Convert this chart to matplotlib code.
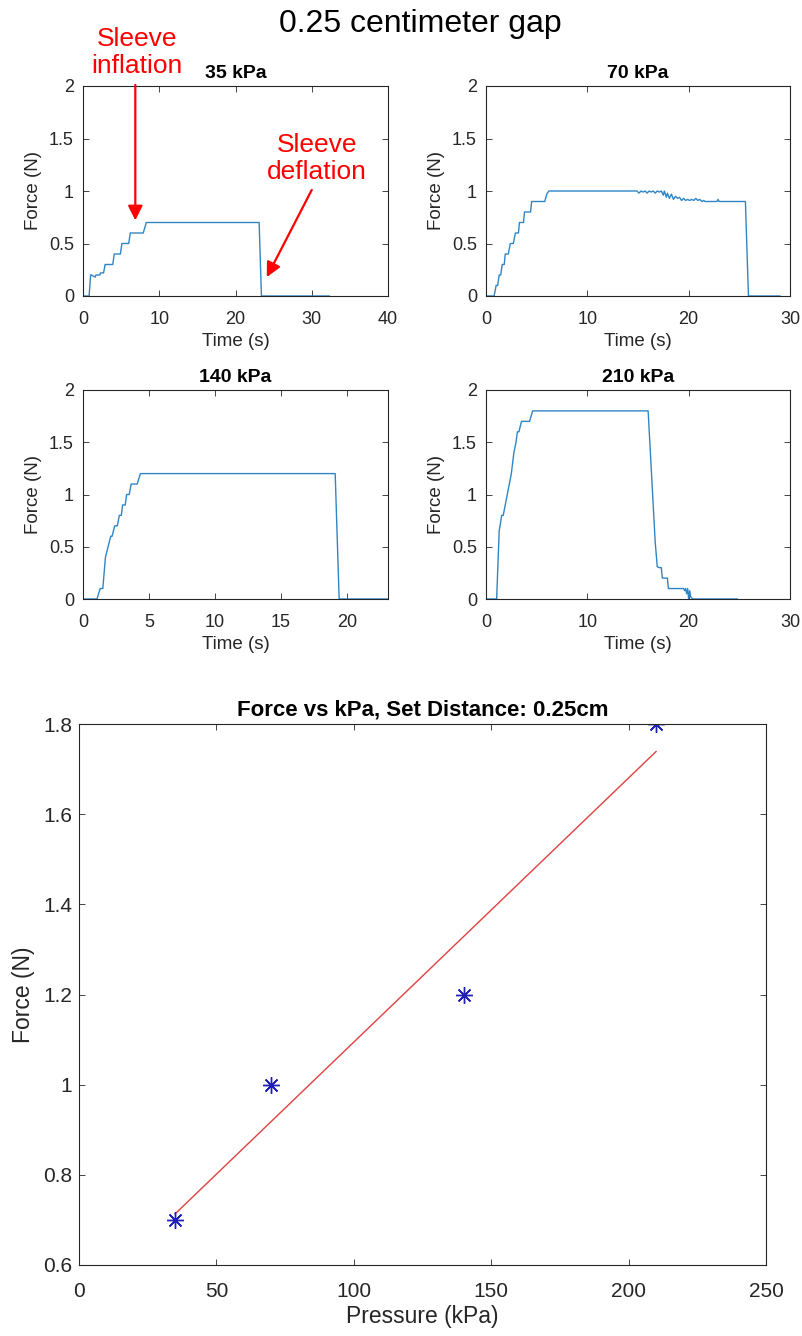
import numpy as np
import matplotlib
matplotlib.use("Agg")
import matplotlib.pyplot as plt
from matplotlib.ticker import FormatStrFormatter

plt.rcParams['font.family'] = ['Liberation Sans', 'DejaVu Sans']

# ---------------- data ----------------
t35 = [0, 0.8, 1.0, 1.1, 1.6, 1.7, 2.2, 2.3, 2.7, 2.9, 3.0, 3.9, 4.1, 4.9, 5.1, 6.0, 6.2, 7.9, 8.3, 23.1, 23.4, 32.3]
f35 = [0, 0, 0.2, 0.2, 0.18, 0.2, 0.2, 0.22, 0.22, 0.3, 0.3, 0.3, 0.4, 0.4, 0.5, 0.5, 0.6, 0.6, 0.7, 0.7, 0, 0]

t70 = [0, 0.8, 1.0, 1.15, 1.3, 1.45, 1.6, 1.8, 1.9, 2.2, 2.4, 2.7, 2.9, 3.2, 3.3, 3.7, 3.8, 4.4, 4.5, 5.8, 6.0, 6.2,
       14.9, 15.1, 15.3, 15.5, 15.7, 15.9, 16.1, 16.3, 16.5, 16.7, 16.9, 17.1, 17.3, 17.5, 17.6, 17.8, 17.9, 18.1,
       18.3, 18.5, 18.7, 18.9, 19.1, 19.3, 19.5, 19.7, 19.9, 20.1, 20.3, 20.5, 20.7, 20.9, 21.1, 21.3, 21.5, 21.6,
       22.8, 22.9, 23.0, 25.6, 25.9, 29.0]
f70 = [0, 0, 0.1, 0.1, 0.2, 0.2, 0.3, 0.3, 0.4, 0.4, 0.5, 0.5, 0.6, 0.6, 0.7, 0.7, 0.8, 0.8, 0.9, 0.9, 0.97, 1.0,
       1.0, 0.98, 1.0, 0.99, 1.0, 0.98, 1.0, 0.99, 1.0, 0.98, 1.0, 0.99, 1.0, 0.96, 1.0, 0.94, 0.98, 0.93,
       0.97, 0.92, 0.95, 0.93, 0.94, 0.91, 0.93, 0.91, 0.92, 0.91, 0.92, 0.91, 0.93, 0.91, 0.92, 0.9, 0.91, 0.9,
       0.9, 0.92, 0.9, 0.9, 0, 0]

t140 = [0, 1.06, 1.3, 1.5, 1.7, 1.9, 2.1, 2.2, 2.4, 2.6, 2.75, 2.9, 3.0, 3.2, 3.3, 3.5, 3.65, 4.1, 4.35, 19.1, 19.4, 23.1]
f140 = [0, 0, 0.1, 0.1, 0.4, 0.5, 0.6, 0.6, 0.7, 0.7, 0.8, 0.8, 0.9, 0.9, 1.0, 1.0, 1.1, 1.1, 1.2, 1.2, 0, 0]

t210 = [0, 1.05, 1.3, 1.55, 1.7, 1.9, 2.1, 2.5, 2.75, 2.96, 3.1, 3.25, 3.5, 3.7, 4.3, 4.6, 16.0, 16.3, 16.7, 16.9,
        17.1, 17.3, 17.4, 17.9, 18.0, 19.5, 19.6, 19.7, 19.8, 19.9, 20.0, 20.1, 20.2, 20.4, 24.8]
f210 = [0, 0, 0.65, 0.8, 0.8, 0.9, 1.0, 1.2, 1.4, 1.5, 1.6, 1.6, 1.7, 1.7, 1.7, 1.8, 1.8, 1.26, 0.54, 0.31,
        0.3, 0.3, 0.2, 0.2, 0.1, 0.1, 0.08, 0.1, 0.05, 0.1, 0.0, 0.08, 0.02, 0.0, 0.0]

pressure = [35, 70, 140, 210]
force = [0.7, 1.0, 1.2, 1.8]

titles = ["35 kPa", "70 kPa", "140 kPa", "210 kPa"]
xmaxes = [40, 30, 23.1, 30]
xtick_sets = [[0, 10, 20, 30, 40], [0, 10, 20, 30], [0, 5, 10, 15, 20], [0, 10, 20, 30]]

# ---------------- figure ----------------
W, H = 803, 1336
fig = plt.figure(figsize=(W / 100, H / 100), dpi=100)

def box(l, t, r, b):
    return [l / W, 1 - b / H, (r - l) / W, (b - t) / H]

rects = [box(83, 86, 388, 296), box(486, 86, 790, 296),
         box(83, 390, 388, 599), box(486, 390, 790, 599)]
series = [(t35, f35), (t70, f70), (t140, f140), (t210, f210)]

TXT = '#262626'
LINE = '#2f86c6'

def style(ax, fs, xpad, ypad):
    for s in ax.spines.values():
        s.set_color('#262626')
        s.set_linewidth(0.8)
    ax.tick_params(direction='in', top=True, right=True, labelsize=fs,
                   colors=TXT, length=4, width=0.6)
    ax.tick_params(axis='x', pad=xpad)
    ax.tick_params(axis='y', pad=ypad)

axes = []
for rect, (t, f), ttl, xm, xt in zip(rects, series, titles, xmaxes, xtick_sets):
    ax = fig.add_axes(rect)
    ax.plot(t, f, color=LINE, lw=1.0)
    ax.set_xlim(0, xm)
    ax.set_ylim(0, 2)
    ax.set_xticks(xt)
    ax.set_yticks([0, 0.5, 1, 1.5, 2])
    ax.yaxis.set_major_formatter(FormatStrFormatter('%g'))
    ax.set_xlabel('Time (s)', fontsize=13.5, color=TXT, labelpad=4)
    ax.set_ylabel('Force (N)', fontsize=13.5, color=TXT, labelpad=5)
    ax.set_title(ttl, fontsize=14, fontweight='bold', pad=6)
    style(ax, 13, 10.5, 6.5)
    axes.append(ax)

# annotations on first subplot
a0 = axes[0]
a0.text(7.1, 2.32, 'Sleeve\ninflation', color='red', fontsize=19, ha='center', va='center',
        linespacing=1.15, clip_on=False)
a0.annotate('', xy=(6.86, 0.72), xytext=(6.86, 2.01), xycoords='data',
            arrowprops=dict(arrowstyle='-|>', color='red', lw=1.6, mutation_scale=22,
                            shrinkA=0, shrinkB=0), annotation_clip=False)
a0.text(30.7, 1.31, 'Sleeve\ndeflation', color='red', fontsize=19, ha='center', va='center',
        linespacing=1.15, clip_on=False)
a0.annotate('', xy=(24.1, 0.18), xytext=(30.0, 1.01), xycoords='data',
            arrowprops=dict(arrowstyle='-|>', color='red', lw=1.6, mutation_scale=22,
                            shrinkA=0, shrinkB=0), annotation_clip=False)

fig.text(420 / W, 1 - 24 / H, '0.25 centimeter gap', fontsize=23, ha='center', va='center', color='black')

# bottom plot
axb = fig.add_axes(box(79, 724, 766, 1265))
coef = np.polyfit(pressure, force, 1)
xfit = np.array([pressure[0], pressure[-1]])
axb.plot(xfit, np.polyval(coef, xfit), color='#e04040', lw=1.0)
axb.plot(pressure, force, linestyle='none', marker=(8, 2, 0), color='#1f1fb8', markersize=12,
         markeredgewidth=1.0)
axb.set_xlim(0, 250)
axb.set_ylim(0.6, 1.8)
axb.set_xticks([0, 50, 100, 150, 200, 250])
axb.set_yticks([0.6, 0.8, 1.0, 1.2, 1.4, 1.6, 1.8])
axb.yaxis.set_major_formatter(FormatStrFormatter('%g'))
axb.set_xlabel('Pressure (kPa)', fontsize=16.5, color=TXT, labelpad=3)
axb.set_ylabel('Force (N)', fontsize=16.5, color=TXT, labelpad=6)
axb.set_title('Force vs kPa, Set Distance: 0.25cm', fontsize=16, fontweight='bold', pad=6)
style(axb, 15, 12, 5)

fig.savefig('out.png', dpi=100)
